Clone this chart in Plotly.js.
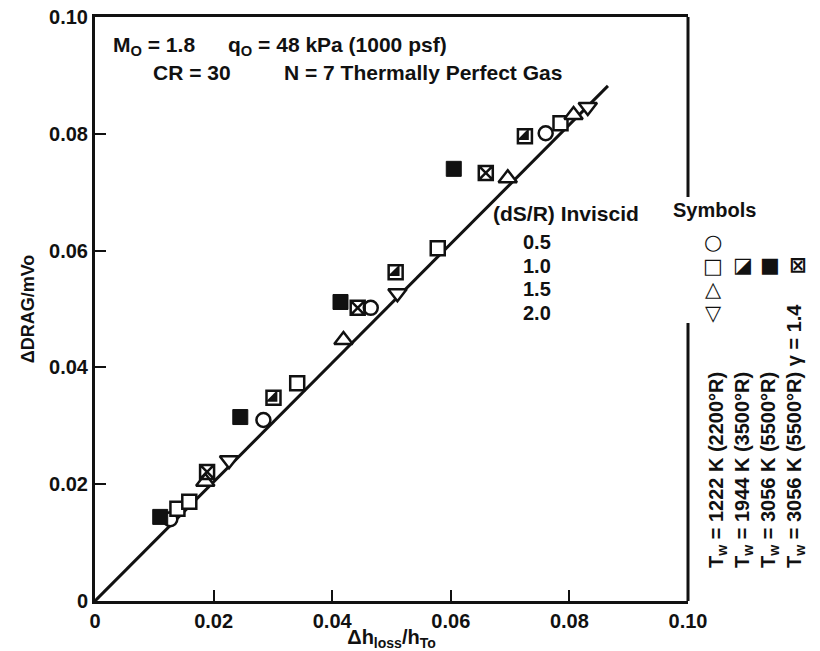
<!DOCTYPE html>
<html>
<head>
<meta charset="utf-8">
<script src="https://cdn.plot.ly/plotly-3.0.1.min.js"></script>
<style>body{margin:0;background:#fff}#chart{width:820px;height:651px}</style>
</head>
<body>
<div id="chart"></div>
<script>
// dS/R = 0.5, Tw = 1222 K (open circles)
const circX = [0.0127, 0.0284, 0.0465, 0.0760];
const circY = [0.0140, 0.0310, 0.0502, 0.0801];
// dS/R = 1.0, Tw = 1222 K (open squares)
const sqX = [0.0139, 0.0159, 0.0341, 0.0578, 0.0785];
const sqY = [0.0158, 0.0170, 0.0373, 0.0604, 0.0818];
// dS/R = 1.5 (triangle up)
const triUpX = [0.0186, 0.0419, 0.0696, 0.0807];
const triUpY = [0.0204, 0.0447, 0.0724, 0.0832];
// dS/R = 2.0 (triangle down)
const triDnX = [0.0226, 0.0510, 0.0831];
const triDnY = [0.0241, 0.0527, 0.0846];
// dS/R = 1.0, Tw = 1944 K (half-filled squares)
const halfX = [0.0301, 0.0507, 0.0725];
const halfY = [0.0348, 0.0563, 0.0796];
// dS/R = 1.0, Tw = 3056 K (filled squares)
const filledX = [0.0110, 0.0245, 0.0414, 0.0605];
const filledY = [0.0144, 0.0315, 0.0512, 0.0740];
// dS/R = 1.0, Tw = 3056 K, gamma = 1.4 (crossed squares)
const crossX = [0.0189, 0.0443, 0.0659];
const crossY = [0.0221, 0.0502, 0.0733];
// correlation line
const fitX = [0, 0.0865];
const fitY = [0, 0.0882];

const tickVals = [0, 0.02, 0.04, 0.06, 0.08, 0.10];
const tickText = ['0', '0.02', '0.04', '0.06', '0.08', '0.10'];

const legendRows = ['0.5', '1.0', '1.5', '2.0'];
const legendGlyphsCol1 = ['\u25CB', '\u25A1', '\u25B3', '\u25BD'];
const legendGlyphsRow2 = ['\u25EA', '\u25A0', '\u22A0'];
const wallLabels = [
  'T<sub>w</sub> = 1222 K (2200°R)',
  'T<sub>w</sub> = 1944 K (3500°R)',
  'T<sub>w</sub> = 3056 K (5500°R)',
  'T<sub>w</sub> = 3056 K (5500°R) γ = 1.4'
];

const FONT = 'Liberation Sans, Arial, Helvetica, sans-serif';
const ink = '#111';
const mLine = {color: ink, width: 2.5};

const traces = [
  {x: fitX, y: fitY, mode: 'lines', line: {color: ink, width: 3}, hoverinfo: 'skip'},
  {x: circX, y: circY, mode: 'markers', marker: {symbol: 'circle', size: 14, color: '#fff', line: mLine}},
  {x: sqX, y: sqY, mode: 'markers', marker: {symbol: 'square', size: 14, color: '#fff', line: mLine}},
  {x: triUpX, y: triUpY, mode: 'markers', marker: {symbol: 'triangle-up', size: 16, color: '#fff', line: mLine}},
  {x: triDnX, y: triDnY, mode: 'markers', marker: {symbol: 'triangle-down', size: 16, color: '#fff', line: mLine}},
  {x: halfX, y: halfY, mode: 'markers', marker: {symbol: 'square', size: 14, color: '#fff', line: mLine}},
  {x: halfX, y: halfY, mode: 'markers', marker: {symbol: 'triangle-se', size: 13, color: ink, line: {width: 0}}},
  {x: filledX, y: filledY, mode: 'markers', marker: {symbol: 'square', size: 15, color: ink, line: {color: ink, width: 1}}},
  {x: crossX, y: crossY, mode: 'markers', marker: {symbol: 'square-x-open', size: 14, color: ink, line: {color: ink, width: 2.5}}}
];

// pixel helpers for layout placement (plot area: x 95..688, y 17..601)
const L = 95, R = 688, T = 17, B = 601;
const px = v => (v - L) / (R - L);
const py = v => (B - v) / (B - T);

const ann = [];
function txt(text, x, y, opts, size) {
  ann.push(Object.assign({text: text, xref: 'paper', yref: 'paper', x: px(x), y: py(y),
    showarrow: false, xanchor: 'left', yanchor: 'middle',
    font: {family: FONT, size: size || 20, color: ink, weight: 'bold'}}, opts || {}));
}
txt('M<sub>O</sub> = 1.8', 111, 46, null, 21);
txt('q<sub>O</sub> = 48 kPa (1000 psf)', 226, 46, null, 21);
txt('CR = 30', 151, 72, null, 21);
txt('N = 7 Thermally Perfect Gas', 282, 72, null, 21);
txt('(dS/R) Inviscid', 491, 213, null, 21);
txt('Symbols', 671, 210);
legendRows.forEach((t, i) => txt(t, 537, 242 + i * 23.7, {xanchor: 'center'}));
legendGlyphsCol1.forEach((g, i) => txt(g, 713, 242 + i * 23.7, {xanchor: 'center',
  font: {family: 'DejaVu Sans', size: 21, color: ink, weight: 'bold'}}));
legendGlyphsRow2.forEach((g, i) => txt(g, 743 + i * 27.5, 265, {xanchor: 'center',
  font: {family: 'DejaVu Sans', size: 21, color: ink, weight: 'bold'}}));
wallLabels.forEach((t, i) => txt(t, 717 + i * 26, 570, {xanchor: 'center', yanchor: 'bottom', textangle: -90}, 20));

const layout = {
  width: 820, height: 651,
  margin: {l: L, r: 820 - R, t: T, b: 651 - B},
  paper_bgcolor: '#fff', plot_bgcolor: '#fff',
  showlegend: false,
  xaxis: {
    range: [0, 0.10], tickvals: tickVals, ticktext: tickText,
    ticks: 'inside', ticklen: 11, tickwidth: 2, tickcolor: ink,
    showline: true, linewidth: 3, linecolor: ink, mirror: true,
    showgrid: false, zeroline: false,
    tickfont: {family: FONT, size: 20, color: ink, weight: 'bold'},
    title: {text: 'Δh<sub>loss</sub>/h<sub>To</sub>', standoff: 0,
      font: {family: FONT, size: 20, color: ink, weight: 'bold'}}
  },
  yaxis: {
    range: [0, 0.10], tickvals: tickVals, ticktext: tickText,
    ticks: 'inside', ticklen: 11, tickwidth: 2, tickcolor: ink,
    showline: true, linewidth: 3, linecolor: ink, mirror: false,
    showgrid: false, zeroline: false,
    tickfont: {family: FONT, size: 20, color: ink, weight: 'bold'},
    title: {text: 'ΔDRAG/mVo', standoff: 10,
      font: {family: FONT, size: 18, color: ink, weight: 'bold'}}
  },
  shapes: [
    {type: 'line', xref: 'paper', yref: 'paper', x0: 1, x1: 1, y0: 0, y1: py(323), line: {color: ink, width: 3}},
    {type: 'line', xref: 'paper', yref: 'paper', x0: 1, x1: 1, y0: py(197), y1: 1, line: {color: ink, width: 3}}
  ],
  annotations: ann
};

Plotly.newPlot('chart', traces, layout, {displayModeBar: false, staticPlot: true});
</script>
</body>
</html>
